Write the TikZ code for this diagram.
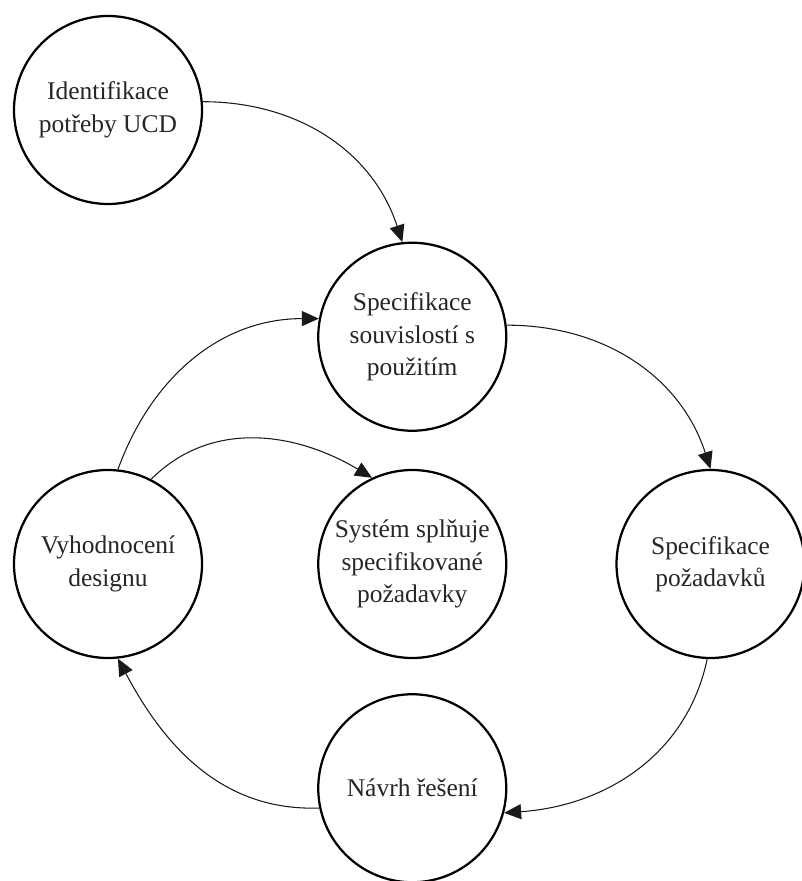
\documentclass[tikz,border=0pt]{standalone}
\usepackage{fontspec}
\setmainfont{Liberation Serif}
\usepackage{tikz}
\usetikzlibrary{
  arrows.meta,
  positioning,
  shapes.geometric
}

\begin{document}
\begin{tikzpicture}[
      >={Triangle[length=0.34cm, width=0.3cm]},
      krok/.style={circle, draw=black, line width=0.045cm, minimum size=3.76cm, inner sep=0pt, align=center, text=black!85, font=\fontsize{14.5}{18.5}\selectfont},
      sipka/.style={->, line width=0.6pt, black!90}
  ]
      \useasboundingbox (0,0) rectangle (16.02,-17.62);

      % Kroky
      \node[krok] (ident) at (2.16,-2.20) {Identifikace\\potřeby UCD};
      \node[krok] (vyhod) at (2.16,-11.28) {Vyhodnocení\\designu};
      \node[krok, right=2.28cm of vyhod] (system) {Systém splňuje\\specifikované\\požadavky};
      \node[krok, right=2.16cm of system] (pozad) {Specifikace\\požadavků};
      \node[krok, above=0.74cm of system] (kontext) {Specifikace\\souvislostí s\\použitím};
      \node[krok, below=0.68cm of system] (navrh) {Návrh řešení};

      % Přechody
      \draw[sipka] (ident.5) to[out=0, in=108] (kontext.96);
      \draw[sipka] (kontext.7) to[out=0, in=108] (pozad.90);
      \draw[sipka] (pozad.268) to[out=258, in=4] (navrh.345);
      \draw[sipka] (navrh.192) to[out=182, in=-62] (vyhod.276);
      \draw[sipka] (vyhod.84) to[out=70, in=180] (kontext.169);
      \draw[sipka] (vyhod.63) to[out=45, in=149] (system.115);

  \end{tikzpicture}
\end{document}
